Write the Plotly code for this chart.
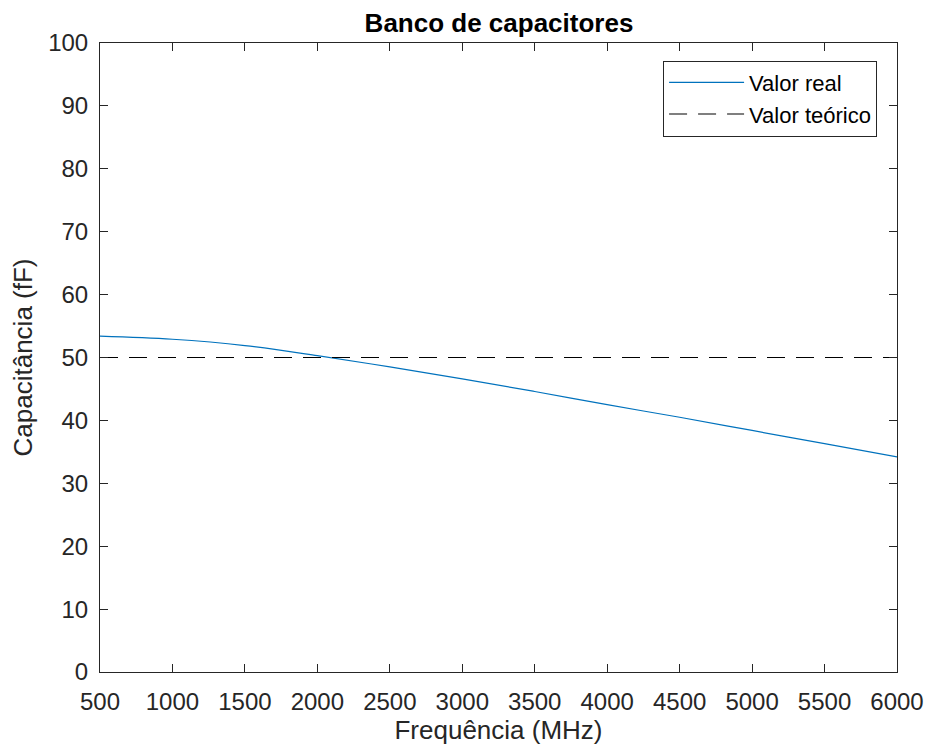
import plotly.graph_objects as go

freq = [500, 1000, 1500, 2000, 2500, 3000, 3500, 4000, 4500, 5000, 5500, 6000]
cap_real = [53.4, 52.9, 51.9, 50.3, 48.5, 46.6, 44.6, 42.5, 40.5, 38.4, 36.3, 34.2]
cap_teo = [50] * len(freq)

x_ticks = [500, 1000, 1500, 2000, 2500, 3000, 3500, 4000, 4500, 5000, 5500, 6000]
y_ticks = [0, 10, 20, 30, 40, 50, 60, 70, 80, 90, 100]

FONT = "Liberation Sans, Arial, Helvetica, sans-serif"

fig = go.Figure()
fig.add_trace(go.Scatter(x=freq, y=cap_real, mode="lines", name="Valor real",
                         line=dict(color="#0072BD", width=1.2, shape="spline")))
fig.add_trace(go.Scatter(x=freq, y=cap_teo, mode="lines", name="Valor teórico",
                         line=dict(color="#000000", width=1.2, dash="18px,11px")))

axis_common = dict(showgrid=False, zeroline=False, ticks="inside", ticklen=8,
                   tickcolor="#262626", linecolor="#262626", linewidth=1,
                   mirror="allticks", showline=True, automargin=False,
                   tickfont=dict(family=FONT, size=24, color="#262626"))

fig.update_layout(
    width=927, height=751,
    margin=dict(l=100, r=30, t=43, b=79),
    paper_bgcolor="white", plot_bgcolor="white",
    title=dict(text="<b>Banco de capacitores</b>", x=499 / 927, xanchor="center",
               y=1 - 23 / 751, yanchor="middle",
               font=dict(family=FONT, size=26, color="#000000")),
    xaxis=dict(range=[500, 6000], tickvals=x_ticks, ticklabelstandoff=8,
               ticklabeloverflow="allow",
               title=dict(text="Frequência (MHz)", standoff=6,
                          font=dict(family=FONT, size=26, color="#262626")),
               **axis_common),
    yaxis=dict(range=[0, 100], tickvals=y_ticks, ticklabelstandoff=6,
               title=dict(text="Capacitância (fF)", standoff=8,
                          font=dict(family=FONT, size=26, color="#262626")),
               **axis_common),
    legend=dict(x=0.975, y=0.972, xanchor="right", yanchor="top",
                bgcolor="white", bordercolor="#262626", borderwidth=1,
                font=dict(family=FONT, size=22, color="#000000"),
                tracegroupgap=0, itemwidth=75),
    showlegend=True,
)

fig.write_html("out.html", config={"displayModeBar": False},
               post_script="document.body.style.margin='0';document.body.style.overflow='hidden';")
